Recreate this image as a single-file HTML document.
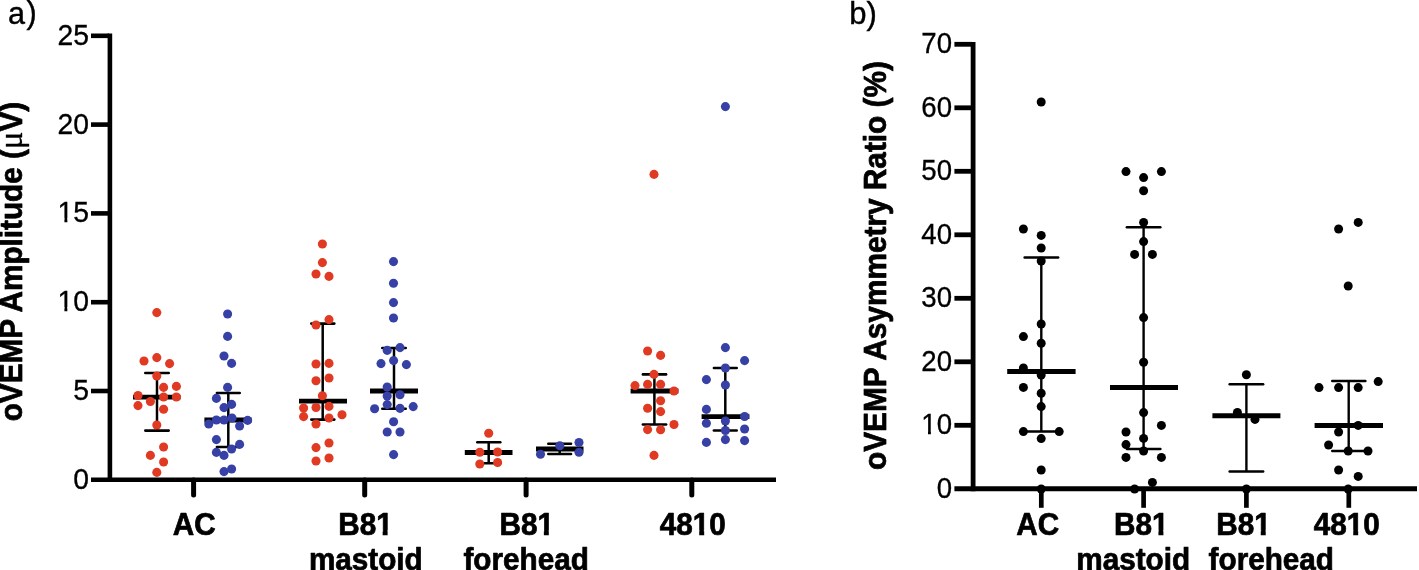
<!DOCTYPE html>
<html lang="en"><head><meta charset="utf-8"><title>oVEMP figure</title>
<style>
html,body{margin:0;padding:0;background:#fff;}
body{width:1419px;height:570px;overflow:hidden;}
svg{display:block;}
text{font-family:"Liberation Sans",sans-serif;fill:#000;}
.tk{font-size:28.3px;text-anchor:end;stroke:#000;stroke-width:0.3px;}
.tkb{font-size:27.6px;text-anchor:end;stroke:#000;stroke-width:0.3px;}
.lb{font-size:29.7px;font-weight:bold;text-anchor:middle;stroke:#000;stroke-width:0.7px;stroke-linejoin:round;}
.ttl{font-size:29.8px;font-weight:bold;stroke:#000;stroke-width:0.7px;stroke-linejoin:round;}
.mu{font-family:"Liberation Serif","DejaVu Serif",serif;font-weight:normal;font-size:33px;stroke-width:0.3px;}
.pn{font-size:30.6px;stroke:#000;stroke-width:0.4px;}
</style></head><body>
<svg width="1419" height="570" viewBox="0 0 1419 570">
<rect width="1419" height="570" fill="#fff"/>

<g id="chartA">
<text class="pn" x="7.9" y="23.7">a<tspan dx="1.7" dy="-0.8">)</tspan></text>
<g stroke="#000" fill="none">
<line x1="109.9" y1="33.5" x2="109.9" y2="482.1" stroke-width="4.6"/>
<line x1="91" y1="479.8" x2="776" y2="479.8" stroke-width="4.6"/>
<line x1="91" y1="391.0" x2="109" y2="391.0" stroke-width="4.6"/>
<line x1="91" y1="302.2" x2="109" y2="302.2" stroke-width="4.6"/>
<line x1="91" y1="213.4" x2="109" y2="213.4" stroke-width="4.6"/>
<line x1="91" y1="124.6" x2="109" y2="124.6" stroke-width="4.6"/>
<line x1="91" y1="35.8" x2="109" y2="35.8" stroke-width="4.6"/>
<line x1="193.6" y1="480" x2="193.6" y2="495" stroke-width="5" stroke-linecap="round"/>
<line x1="364.7" y1="480" x2="364.7" y2="495" stroke-width="5" stroke-linecap="round"/>
<line x1="526.1" y1="480" x2="526.1" y2="495" stroke-width="5" stroke-linecap="round"/>
<line x1="691.8" y1="480" x2="691.8" y2="495" stroke-width="5" stroke-linecap="round"/>
</g>
<g transform="translate(89 488.8) scale(1 1.07)"><text class="tk">0</text></g>
<g transform="translate(89 400.0) scale(1 1.07)"><text class="tk">5</text></g>
<g transform="translate(89 311.2) scale(1 1.07)"><text class="tk">10</text><rect x="-30.62" y="-3.82" width="6.03" height="5.42" fill="#fff"/><rect x="-21.65" y="-3.82" width="6.03" height="5.42" fill="#fff"/></g>
<g transform="translate(89 222.4) scale(1 1.07)"><text class="tk">15</text><rect x="-30.62" y="-3.82" width="6.03" height="5.42" fill="#fff"/><rect x="-21.65" y="-3.82" width="6.03" height="5.42" fill="#fff"/></g>
<g transform="translate(89 133.6) scale(1 1.07)"><text class="tk">20</text></g>
<g transform="translate(89 44.8) scale(1 1.07)"><text class="tk">25</text></g>
<text class="ttl" style="font-size:29.7px" transform="translate(22.2 421.3) rotate(-90) scale(1 1.05)">oVEMP Amplitude (<tspan class="mu">μ</tspan>V)</text>
<g stroke="#000" fill="none">
<line x1="157" y1="373" x2="157" y2="430.6" stroke-width="2.5"/><line x1="145.3" y1="373" x2="168.7" y2="373" stroke-width="2.6" stroke-linecap="round"/><line x1="145.3" y1="430.6" x2="168.7" y2="430.6" stroke-width="2.6" stroke-linecap="round"/><line x1="133" y1="397.2" x2="180.5" y2="397.2" stroke-width="4.8"/>
<line x1="228.3" y1="393" x2="228.3" y2="447" stroke-width="2.5"/><line x1="216.9" y1="393" x2="239.7" y2="393" stroke-width="2.6" stroke-linecap="round"/><line x1="216.9" y1="447" x2="239.7" y2="447" stroke-width="2.6" stroke-linecap="round"/><line x1="204.4" y1="420" x2="251.6" y2="420" stroke-width="4.8"/>
<line x1="322.7" y1="323.6" x2="322.7" y2="419.6" stroke-width="2.5"/><line x1="311.3" y1="323.6" x2="334.3" y2="323.6" stroke-width="2.6" stroke-linecap="round"/><line x1="311.3" y1="419.6" x2="334.3" y2="419.6" stroke-width="2.6" stroke-linecap="round"/><line x1="299" y1="401.2" x2="347" y2="401.2" stroke-width="4.8"/>
<line x1="394" y1="348" x2="394" y2="408.8" stroke-width="2.5"/><line x1="382.3" y1="348" x2="405.7" y2="348" stroke-width="2.6" stroke-linecap="round"/><line x1="382.3" y1="408.8" x2="405.7" y2="408.8" stroke-width="2.6" stroke-linecap="round"/><line x1="370" y1="391" x2="418" y2="391" stroke-width="4.8"/>
<line x1="488.7" y1="442.3" x2="488.7" y2="463.3" stroke-width="2.5"/><line x1="477.3" y1="442.3" x2="500.3" y2="442.3" stroke-width="2.6" stroke-linecap="round"/><line x1="477.3" y1="463.3" x2="500.3" y2="463.3" stroke-width="2.6" stroke-linecap="round"/><line x1="464.8" y1="452.5" x2="512.5" y2="452.5" stroke-width="4.8"/>
<line x1="559.7" y1="443.8" x2="559.7" y2="454" stroke-width="2.5"/><line x1="548.3" y1="443.8" x2="571.0" y2="443.8" stroke-width="2.6" stroke-linecap="round"/><line x1="548.3" y1="454" x2="571.0" y2="454" stroke-width="2.6" stroke-linecap="round"/><line x1="536" y1="449" x2="583.5" y2="449" stroke-width="4.8"/>
<line x1="654.4" y1="374.4" x2="654.4" y2="424.5" stroke-width="2.5"/><line x1="642.9" y1="374.4" x2="666.1" y2="374.4" stroke-width="2.6" stroke-linecap="round"/><line x1="642.9" y1="424.5" x2="666.1" y2="424.5" stroke-width="2.6" stroke-linecap="round"/><line x1="630.6" y1="391" x2="678.4" y2="391" stroke-width="4.8"/>
<line x1="725.3" y1="368" x2="725.3" y2="430.5" stroke-width="2.5"/><line x1="713.9" y1="368" x2="736.7" y2="368" stroke-width="2.6" stroke-linecap="round"/><line x1="713.9" y1="430.5" x2="736.7" y2="430.5" stroke-width="2.6" stroke-linecap="round"/><line x1="701.6" y1="416.6" x2="749.4" y2="416.6" stroke-width="4.8"/>
</g>
<g fill="#E03A22"><circle cx="156.8" cy="312.6" r="4.55"/><circle cx="144" cy="361" r="4.55"/><circle cx="156.8" cy="357.6" r="4.55"/><circle cx="169.6" cy="363.6" r="4.55"/><circle cx="156.8" cy="376" r="4.55"/><circle cx="163.6" cy="387.4" r="4.55"/><circle cx="176.4" cy="386.4" r="4.55"/><circle cx="138" cy="395.5" r="4.55"/><circle cx="163.6" cy="397" r="4.55"/><circle cx="176.4" cy="397" r="4.55"/><circle cx="150.4" cy="401.5" r="4.55"/><circle cx="138" cy="405.6" r="4.55"/><circle cx="163.6" cy="409.3" r="4.55"/><circle cx="156.8" cy="425" r="4.55"/><circle cx="163.6" cy="447" r="4.55"/><circle cx="150.4" cy="455.4" r="4.55"/><circle cx="163.6" cy="462" r="4.55"/><circle cx="156.8" cy="472.4" r="4.55"/><circle cx="322.4" cy="244" r="4.55"/><circle cx="322.4" cy="262.6" r="4.55"/><circle cx="316" cy="274" r="4.55"/><circle cx="329" cy="276.4" r="4.55"/><circle cx="329" cy="319.6" r="4.55"/><circle cx="316" cy="325" r="4.55"/><circle cx="316" cy="364" r="4.55"/><circle cx="329" cy="363.4" r="4.55"/><circle cx="316" cy="380.8" r="4.55"/><circle cx="329" cy="378" r="4.55"/><circle cx="322.4" cy="395.8" r="4.55"/><circle cx="303.6" cy="408" r="4.55"/><circle cx="316" cy="407.5" r="4.55"/><circle cx="329" cy="406.4" r="4.55"/><circle cx="342" cy="414.8" r="4.55"/><circle cx="303.6" cy="416.6" r="4.55"/><circle cx="329" cy="418" r="4.55"/><circle cx="316" cy="424" r="4.55"/><circle cx="329" cy="443" r="4.55"/><circle cx="316" cy="447.6" r="4.55"/><circle cx="329" cy="458" r="4.55"/><circle cx="316" cy="461" r="4.55"/><circle cx="488.7" cy="433.2" r="4.55"/><circle cx="479.8" cy="452.3" r="4.55"/><circle cx="497.6" cy="452" r="4.55"/><circle cx="479.8" cy="464" r="4.55"/><circle cx="497.6" cy="462.5" r="4.55"/><circle cx="654" cy="174.4" r="4.55"/><circle cx="647.6" cy="351" r="4.55"/><circle cx="660.6" cy="355.4" r="4.55"/><circle cx="654" cy="374.4" r="4.55"/><circle cx="635" cy="385.6" r="4.55"/><circle cx="647.6" cy="384.4" r="4.55"/><circle cx="660.6" cy="384.4" r="4.55"/><circle cx="674" cy="391" r="4.55"/><circle cx="660.6" cy="400.8" r="4.55"/><circle cx="647.6" cy="408.2" r="4.55"/><circle cx="660.6" cy="411.6" r="4.55"/><circle cx="674" cy="424.5" r="4.55"/><circle cx="647.6" cy="429.6" r="4.55"/><circle cx="660.6" cy="429.8" r="4.55"/><circle cx="654" cy="455.4" r="4.55"/></g>
<g fill="#3640A5"><circle cx="227.6" cy="314" r="4.55"/><circle cx="227.6" cy="336.4" r="4.55"/><circle cx="224" cy="356" r="4.55"/><circle cx="231.6" cy="363.4" r="4.55"/><circle cx="227.6" cy="387.4" r="4.55"/><circle cx="216.4" cy="398.4" r="4.55"/><circle cx="231.6" cy="404.4" r="4.55"/><circle cx="224" cy="407.6" r="4.55"/><circle cx="216.4" cy="420" r="4.55"/><circle cx="224" cy="420" r="4.55"/><circle cx="232" cy="418" r="4.55"/><circle cx="247.6" cy="420.4" r="4.55"/><circle cx="208.8" cy="424" r="4.55"/><circle cx="239.6" cy="426" r="4.55"/><circle cx="216.4" cy="439.6" r="4.55"/><circle cx="239.6" cy="444.4" r="4.55"/><circle cx="231.6" cy="449" r="4.55"/><circle cx="216.4" cy="452.4" r="4.55"/><circle cx="224" cy="455.4" r="4.55"/><circle cx="231.6" cy="469" r="4.55"/><circle cx="224" cy="471.6" r="4.55"/><circle cx="393.5" cy="261.6" r="4.55"/><circle cx="393.5" cy="283.2" r="4.55"/><circle cx="393.5" cy="302.6" r="4.55"/><circle cx="393.5" cy="318" r="4.55"/><circle cx="387.2" cy="350.4" r="4.55"/><circle cx="400" cy="347.6" r="4.55"/><circle cx="381" cy="363.6" r="4.55"/><circle cx="393.6" cy="360.6" r="4.55"/><circle cx="406.4" cy="364.6" r="4.55"/><circle cx="387.2" cy="387" r="4.55"/><circle cx="387.2" cy="396" r="4.55"/><circle cx="400" cy="394.8" r="4.55"/><circle cx="387.2" cy="404.6" r="4.55"/><circle cx="374.6" cy="408.8" r="4.55"/><circle cx="400" cy="408.4" r="4.55"/><circle cx="413.2" cy="406.6" r="4.55"/><circle cx="393.6" cy="421.7" r="4.55"/><circle cx="387.2" cy="432" r="4.55"/><circle cx="400" cy="432" r="4.55"/><circle cx="393.6" cy="454.6" r="4.55"/><circle cx="579" cy="442.5" r="4.55"/><circle cx="559.8" cy="445.8" r="4.55"/><circle cx="540.5" cy="454.3" r="4.55"/><circle cx="579" cy="452.3" r="4.55"/><circle cx="725.4" cy="106.6" r="4.55"/><circle cx="725.4" cy="347.6" r="4.55"/><circle cx="744.6" cy="360.6" r="4.55"/><circle cx="725.4" cy="368" r="4.55"/><circle cx="706.4" cy="379.6" r="4.55"/><circle cx="725.4" cy="385" r="4.55"/><circle cx="706.4" cy="409.4" r="4.55"/><circle cx="744.6" cy="416.5" r="4.55"/><circle cx="706.4" cy="423.2" r="4.55"/><circle cx="725.4" cy="421" r="4.55"/><circle cx="744.6" cy="429" r="4.55"/><circle cx="725.4" cy="430.5" r="4.55"/><circle cx="706.4" cy="442.4" r="4.55"/><circle cx="725.4" cy="439.6" r="4.55"/><circle cx="744.6" cy="440.6" r="4.55"/></g>
<g transform="translate(194.3 534.6) scale(1 1.05)"><text class="lb">AC</text></g>
<g transform="translate(365.5 534.6) scale(1 1.05)"><text class="lb">B81</text><rect x="10.72" y="-4.16" width="6.43" height="5.76" fill="#fff"/><rect x="22.11" y="-4.16" width="6.43" height="5.76" fill="#fff"/></g>
<g transform="translate(365.8 570.2) scale(1 1.05)"><text class="lb">mastoid</text></g>
<g transform="translate(526.7 534.6) scale(1 1.05)"><text class="lb">B81</text><rect x="10.72" y="-4.16" width="6.43" height="5.76" fill="#fff"/><rect x="22.11" y="-4.16" width="6.43" height="5.76" fill="#fff"/></g>
<g transform="translate(526.1 570.2) scale(1 1.05)"><text class="lb">forehead</text></g>
<g transform="translate(692.8 534.6) scale(1 1.05)"><text class="lb">4810</text><rect x="0.00" y="-4.16" width="6.43" height="5.76" fill="#fff"/><rect x="11.39" y="-4.16" width="6.43" height="5.76" fill="#fff"/></g>
</g>
<g id="chartB">
<text class="pn" x="849.2" y="23.5" style="font-size:31px">b<tspan dx="0">)</tspan></text>
<g stroke="#000" fill="none">
<line x1="973.1" y1="42" x2="973.1" y2="491.2" stroke-width="4.8"/>
<line x1="954.4" y1="488.7" x2="1417" y2="488.7" stroke-width="5"/>
<line x1="954.4" y1="425.3" x2="972" y2="425.3" stroke-width="4.8"/>
<line x1="954.4" y1="361.8" x2="972" y2="361.8" stroke-width="4.8"/>
<line x1="954.4" y1="298.3" x2="972" y2="298.3" stroke-width="4.8"/>
<line x1="954.4" y1="234.8" x2="972" y2="234.8" stroke-width="4.8"/>
<line x1="954.4" y1="171.3" x2="972" y2="171.3" stroke-width="4.8"/>
<line x1="954.4" y1="107.8" x2="972" y2="107.8" stroke-width="4.8"/>
<line x1="954.4" y1="44.3" x2="972" y2="44.3" stroke-width="4.8"/>
<line x1="1041.3" y1="489" x2="1041.3" y2="507.8" stroke-width="4.7"/>
<line x1="1143.6" y1="489" x2="1143.6" y2="507.8" stroke-width="4.7"/>
<line x1="1246.4" y1="489" x2="1246.4" y2="507.8" stroke-width="4.7"/>
<line x1="1348.8" y1="489" x2="1348.8" y2="507.8" stroke-width="4.7"/>
<line x1="1041.3" y1="257.4" x2="1041.3" y2="431.6" stroke-width="2.4"/><line x1="1024.65" y1="257.4" x2="1058.15" y2="257.4" stroke-width="2.5" stroke-linecap="round"/><line x1="1024.65" y1="431.6" x2="1058.15" y2="431.6" stroke-width="2.5" stroke-linecap="round"/><line x1="1007.2" y1="371.4" x2="1075.6" y2="371.4" stroke-width="5"/>
<line x1="1143.6" y1="227.2" x2="1143.6" y2="449" stroke-width="2.4"/><line x1="1126.85" y1="227.2" x2="1160.35" y2="227.2" stroke-width="2.5" stroke-linecap="round"/><line x1="1126.85" y1="449" x2="1160.35" y2="449" stroke-width="2.5" stroke-linecap="round"/><line x1="1110" y1="387.4" x2="1178" y2="387.4" stroke-width="5"/>
<line x1="1246.4" y1="384.3" x2="1246.4" y2="471.4" stroke-width="2.4"/><line x1="1229.65" y1="384.3" x2="1263.15" y2="384.3" stroke-width="2.5" stroke-linecap="round"/><line x1="1229.65" y1="471.4" x2="1263.15" y2="471.4" stroke-width="2.5" stroke-linecap="round"/><line x1="1212.4" y1="415.8" x2="1280.4" y2="415.8" stroke-width="5"/>
<line x1="1348.7" y1="381" x2="1348.7" y2="451" stroke-width="2.4"/><line x1="1332.25" y1="381" x2="1365.35" y2="381" stroke-width="2.5" stroke-linecap="round"/><line x1="1332.25" y1="451" x2="1365.35" y2="451" stroke-width="2.5" stroke-linecap="round"/><line x1="1314.6" y1="425.6" x2="1383" y2="425.6" stroke-width="5"/>
</g>
<g transform="translate(952 497.8) scale(1 1.06)"><text class="tkb">0</text></g>
<g transform="translate(952 434.3) scale(1 1.06)"><text class="tkb">10</text><rect x="-29.86" y="-3.73" width="5.87" height="5.33" fill="#fff"/><rect x="-21.11" y="-3.73" width="5.87" height="5.33" fill="#fff"/></g>
<g transform="translate(952 370.8) scale(1 1.06)"><text class="tkb">20</text></g>
<g transform="translate(952 307.3) scale(1 1.06)"><text class="tkb">30</text></g>
<g transform="translate(952 243.8) scale(1 1.06)"><text class="tkb">40</text></g>
<g transform="translate(952 180.3) scale(1 1.06)"><text class="tkb">50</text></g>
<g transform="translate(952 116.8) scale(1 1.06)"><text class="tkb">60</text></g>
<g transform="translate(952 53.3) scale(1 1.06)"><text class="tkb">70</text></g>
<text class="ttl" transform="translate(885.8 470) rotate(-90) scale(1 1.05)">oVEMP Asymmetry Ratio (%)</text>
<g fill="#000"><circle cx="1041.2" cy="102" r="4.5"/><circle cx="1023.4" cy="229" r="4.5"/><circle cx="1041.2" cy="235.4" r="4.5"/><circle cx="1041.2" cy="248" r="4.5"/><circle cx="1041.2" cy="261" r="4.5"/><circle cx="1041.2" cy="324" r="4.5"/><circle cx="1023.4" cy="336.6" r="4.5"/><circle cx="1041.2" cy="343.2" r="4.5"/><circle cx="1023.4" cy="368" r="4.5"/><circle cx="1041.2" cy="375" r="4.5"/><circle cx="1023.4" cy="387.4" r="4.5"/><circle cx="1041.2" cy="393.3" r="4.5"/><circle cx="1041.2" cy="406.6" r="4.5"/><circle cx="1023.4" cy="431.6" r="4.5"/><circle cx="1059.2" cy="431.6" r="4.5"/><circle cx="1041.2" cy="438.6" r="4.5"/><circle cx="1041.2" cy="470" r="4.5"/><circle cx="1041.2" cy="489" r="4.5"/><circle cx="1126" cy="171.6" r="4.5"/><circle cx="1161.4" cy="171.6" r="4.5"/><circle cx="1143.6" cy="177.6" r="4.5"/><circle cx="1143.6" cy="190.8" r="4.5"/><circle cx="1143.6" cy="222.4" r="4.5"/><circle cx="1143.6" cy="241.6" r="4.5"/><circle cx="1134.6" cy="254.4" r="4.5"/><circle cx="1152.4" cy="254.4" r="4.5"/><circle cx="1143.6" cy="317.6" r="4.5"/><circle cx="1143.6" cy="362.2" r="4.5"/><circle cx="1143.6" cy="412.6" r="4.5"/><circle cx="1161.4" cy="425.4" r="4.5"/><circle cx="1126" cy="432" r="4.5"/><circle cx="1143.6" cy="438.4" r="4.5"/><circle cx="1126" cy="444.6" r="4.5"/><circle cx="1143.6" cy="451" r="4.5"/><circle cx="1126" cy="457.4" r="4.5"/><circle cx="1161.4" cy="457.4" r="4.5"/><circle cx="1152.4" cy="482.4" r="4.5"/><circle cx="1134.6" cy="489" r="4.5"/><circle cx="1246.4" cy="374.8" r="4.5"/><circle cx="1237.4" cy="412.4" r="4.5"/><circle cx="1255" cy="419.4" r="4.5"/><circle cx="1246.4" cy="489" r="4.5"/><circle cx="1358.2" cy="222.4" r="4.5"/><circle cx="1338.6" cy="229" r="4.5"/><circle cx="1348.2" cy="286" r="4.5"/><circle cx="1378.2" cy="381.6" r="4.5"/><circle cx="1319" cy="387.6" r="4.5"/><circle cx="1338.6" cy="387.6" r="4.5"/><circle cx="1358.2" cy="387.6" r="4.5"/><circle cx="1358.2" cy="425.4" r="4.5"/><circle cx="1338.6" cy="432" r="4.5"/><circle cx="1328.6" cy="445" r="4.5"/><circle cx="1348.2" cy="451" r="4.5"/><circle cx="1368" cy="451" r="4.5"/><circle cx="1338.6" cy="470" r="4.5"/><circle cx="1358.2" cy="476.4" r="4.5"/><circle cx="1348.2" cy="489" r="4.5"/></g>
<g transform="translate(1037.8 534.6) scale(1 1.05)"><text class="lb">AC</text></g>
<g transform="translate(1141.3 534.6) scale(1 1.05)"><text class="lb">B81</text><rect x="10.72" y="-4.16" width="6.43" height="5.76" fill="#fff"/><rect x="22.11" y="-4.16" width="6.43" height="5.76" fill="#fff"/></g>
<g transform="translate(1133.2 570.2) scale(1 1.05)"><text class="lb">mastoid</text></g>
<g transform="translate(1243.6 534.6) scale(1 1.05)"><text class="lb">B81</text><rect x="10.72" y="-4.16" width="6.43" height="5.76" fill="#fff"/><rect x="22.11" y="-4.16" width="6.43" height="5.76" fill="#fff"/></g>
<g transform="translate(1271.3 570.2) scale(1 1.05)"><text class="lb">forehead</text></g>
<g transform="translate(1346.8 534.6) scale(1 1.05)"><text class="lb">4810</text><rect x="0.00" y="-4.16" width="6.43" height="5.76" fill="#fff"/><rect x="11.39" y="-4.16" width="6.43" height="5.76" fill="#fff"/></g>
</g>
</svg></body></html>
